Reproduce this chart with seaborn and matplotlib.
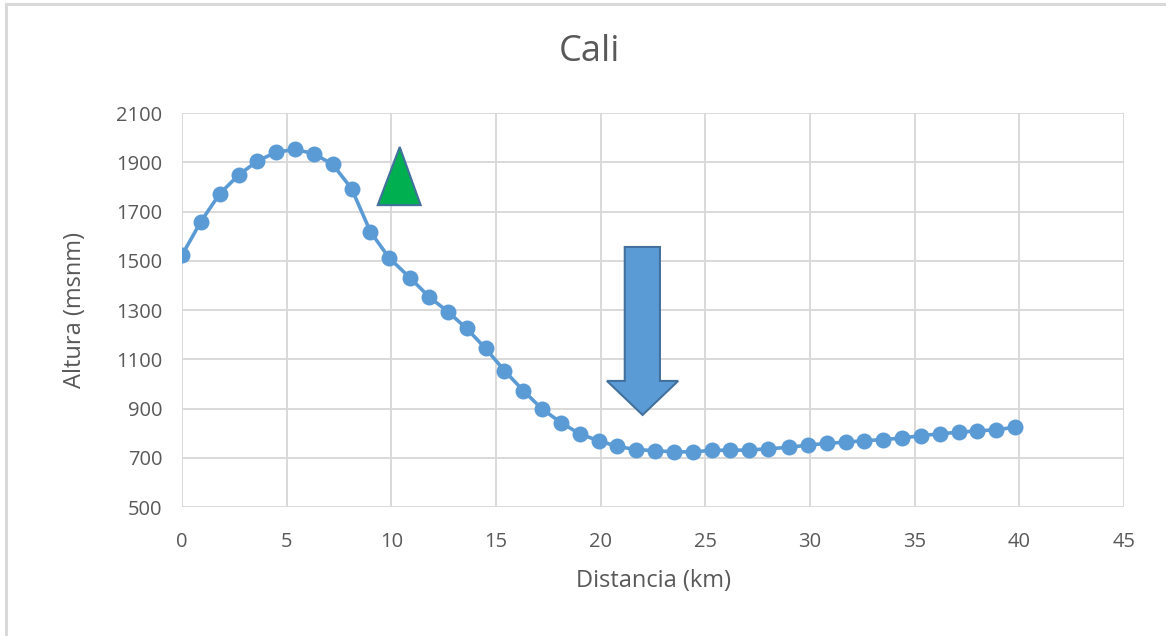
import matplotlib
matplotlib.use("Agg")
import matplotlib.pyplot as plt
import seaborn as sns
from matplotlib.patches import Polygon, Rectangle

# --- Data ---
distancia_km = [0.0, 0.9, 1.8, 2.7, 3.6, 4.5, 5.4, 6.3, 7.2, 8.1,
                9.0, 9.9, 10.9, 11.8, 12.7, 13.6, 14.5, 15.4, 16.3, 17.2,
                18.1, 19.0, 19.9, 20.8, 21.7, 22.6, 23.5, 24.4, 25.3, 26.2,
                27.1, 28.0, 29.0, 29.9, 30.8, 31.7, 32.6, 33.5, 34.4, 35.3,
                36.2, 37.1, 38.0, 38.9, 39.8]
altura_msnm = [1523, 1659, 1772, 1848, 1905, 1941, 1952, 1935, 1891, 1793,
               1618, 1511, 1430, 1354, 1293, 1225, 1144, 1054, 973, 898,
               843, 797, 769, 746, 733, 729, 724, 724, 730, 731,
               731, 737, 742, 752, 758, 764, 769, 774, 780, 790,
               797, 804, 809, 814, 824]
x_ticks = list(range(0, 50, 5))
y_ticks = list(range(500, 2300, 200))

TEXT = '#595959'
LINE = '#5B9BD5'

sns.set_style("white")
plt.rcParams['font.family'] = ['Open Sans', 'DejaVu Sans']

fig = plt.figure(figsize=(11.66, 6.36), dpi=100)
ax = fig.add_axes([0.1561, 0.2028, 0.8079, 0.6195])

sns.lineplot(x=distancia_km, y=altura_msnm, ax=ax, color=LINE, linewidth=2.6,
             marker='o', markersize=11.5, markeredgewidth=0, zorder=3)

ax.set_xlim(0, 45)
ax.set_ylim(500, 2100)
ax.set_xticks(x_ticks)
ax.set_yticks(y_ticks)
ax.grid(True, color='#D9D9D9', linewidth=1.4)
ax.set_axisbelow(True)
for s in ax.spines.values():
    s.set_visible(False)
ax.tick_params(length=0, labelsize=14.5, labelcolor=TEXT)
ax.tick_params(axis='x', pad=18)
ax.tick_params(axis='y', pad=14)

# title is centred on the whole chart, not on the plot area
fig.text(0.5056, 0.918, 'Cali', fontsize=26, color=TEXT, ha='center', va='center')
ax.set_xlabel('Distancia (km)', fontsize=17, color=TEXT, labelpad=12)
ax.set_ylabel('Altura (msnm)', fontsize=17, color=TEXT, labelpad=21)

# green "up" triangle
tri = Polygon([(9.35, 1726), (10.4, 1962), (11.4, 1726)], closed=True,
              facecolor='#00B050', edgecolor='#41719C', linewidth=1.5, zorder=4)
ax.add_patch(tri)

# blue block arrow pointing down
arrow = Polygon([(21.15, 1556), (22.83, 1556), (22.83, 1012), (23.7, 1012),
                 (22.0, 874), (20.3, 1012), (21.15, 1012)], closed=True,
                facecolor=LINE, edgecolor='#41719C', linewidth=1.5, zorder=4)
ax.add_patch(arrow)

# chart area border (only top and left edges fall inside the picture)
fig.patches.append(Rectangle((0.0055, -0.05), 1.2, 1.0435, transform=fig.transFigure,
                             fill=False, edgecolor='#D9D9D9', linewidth=2.2))

fig.savefig('out.png', dpi=100)
